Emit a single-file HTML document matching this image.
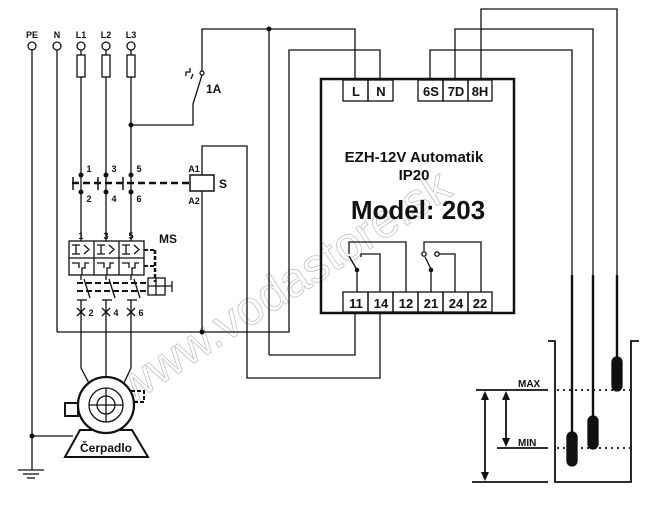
<!DOCTYPE html>
<html><head><style>
html,body{margin:0;padding:0;background:#fff}
svg{display:block}
text{font-family:"Liberation Sans",Arial,sans-serif;fill:#111}
</style></head><body>
<svg width="653" height="517" viewBox="0 0 653 517" xmlns="http://www.w3.org/2000/svg">
<text x="0" y="0" font-size="48" style="fill:none;stroke:#bbb;stroke-width:0.7" transform="translate(130,405) rotate(-33)">www.vodastore.sk</text>
<g stroke="#111" stroke-width="1.3" fill="none">
<circle cx="32" cy="46" r="4" fill="#fff"/><circle cx="57" cy="46" r="4" fill="#fff"/>
<circle cx="81" cy="46" r="4" fill="#fff"/><circle cx="106" cy="46" r="4" fill="#fff"/><circle cx="131" cy="46" r="4" fill="#fff"/>
<line x1="32" y1="50" x2="32" y2="470"/>
<line x1="57" y1="50" x2="57" y2="332"/>
<line x1="81" y1="50" x2="81" y2="241"/>
<line x1="106" y1="50" x2="106" y2="241"/>
<line x1="131" y1="50" x2="131" y2="241"/>
<rect x="77" y="55" width="8" height="22" fill="#fff"/>
<rect x="102" y="55" width="8" height="22" fill="#fff"/>
<rect x="127" y="55" width="8" height="22" fill="#fff"/>
<polyline points="131,125 193,125 193,104 202,75"/>
<circle cx="202" cy="73" r="2" fill="#fff"/>
<polyline points="202,71 202,29 355,29 355,80"/>
<polyline points="191,79 193,74"/>
<polyline points="186,76 186,72 190,72 190,68"/>
<polyline points="57,332 289,332 289,50 380,50 380,80"/>
<line x1="269" y1="29" x2="269" y2="355"/>
<polyline points="269,355 355,355 355,313"/>
<polyline points="202,332 202,191"/>
<polyline points="202,175 202,146 247,146 247,378 380,378 380,313"/>
<rect x="190" y="175" width="24" height="16" stroke-width="1.5" fill="#fff"/>
<line x1="72" y1="183" x2="190" y2="183" stroke-width="2.5" stroke-dasharray="7,4"/>
<line x1="73" y1="177" x2="73" y2="190" stroke-width="1.5"/>
<line x1="98" y1="177" x2="98" y2="190" stroke-width="1.5"/>
<line x1="123" y1="177" x2="123" y2="190" stroke-width="1.5"/>
<rect x="69" y="241" width="75" height="34" fill="#fff"/>
<line x1="69" y1="258" x2="144" y2="258"/>
<line x1="94" y1="241" x2="94" y2="275"/><line x1="119" y1="241" x2="119" y2="275"/>
<path d="M72,245 H80 M76,245 V254 M72,254 H80 M84,245 L89,249.5 L84,254 M97,245 H105 M101,245 V254 M97,254 H105 M109,245 L114,249.5 L109,254 M122,245 H130 M126,245 V254 M122,254 H130 M134,245 L139,249.5 L134,254"/>
<path d="M72,263 H79 V268 M82,275 V268 H85 V263 H89 M97,263 H104 V268 M107,275 V268 H110 V263 H114 M122,263 H129 V268 M132,275 V268 H135 V263 H139"/>
<line x1="144" y1="250" x2="155" y2="250" stroke-width="2" stroke-dasharray="4,2"/>
<line x1="155" y1="250" x2="155" y2="282" stroke-width="2.5" stroke-dasharray="4,2"/>
<line x1="144" y1="266" x2="155" y2="266" stroke-width="2" stroke-dasharray="4,2"/>
<line x1="77" y1="283" x2="148" y2="283" stroke-width="2" stroke-dasharray="6,3"/>
<line x1="77" y1="291" x2="148" y2="291" stroke-width="2" stroke-dasharray="6,3"/>
<rect x="148" y="278" width="17" height="17"/>
<line x1="156" y1="278" x2="156" y2="295"/><line x1="148" y1="286" x2="172" y2="286"/>
<line x1="172" y1="281" x2="172" y2="292"/>
<line x1="81" y1="275" x2="81" y2="280"/><line x1="106" y1="275" x2="106" y2="280"/><line x1="131" y1="275" x2="131" y2="280"/>
<line x1="84" y1="279" x2="90" y2="298"/><line x1="109" y1="279" x2="115" y2="298"/><line x1="134" y1="279" x2="140" y2="298"/>
<line x1="77" y1="300" x2="87" y2="300"/><line x1="102" y1="300" x2="112" y2="300"/><line x1="127" y1="300" x2="137" y2="300"/>
<path d="M77,308 L85,316 M85,308 L77,316 M102,308 L110,316 M110,308 L102,316 M127,308 L135,316 M135,308 L127,316"/>
<line x1="81" y1="300" x2="81" y2="368"/><line x1="106" y1="300" x2="106" y2="378"/><line x1="131" y1="300" x2="131" y2="368"/>
<line x1="81" y1="368" x2="90" y2="385"/><line x1="131" y1="368" x2="123" y2="385"/>
<rect x="65" y="403" width="13" height="13" stroke-width="2" fill="#fff"/>
<path d="M131,391 H144 V402 H133" stroke-width="2" stroke-dasharray="4,2"/>
<polygon points="80,430 132,430 148,457 65,457" stroke-width="2" fill="#fff"/>
<circle cx="106" cy="405" r="28" stroke-width="2.2" fill="#fff"/>
<circle cx="106" cy="405" r="17"/>
<circle cx="106" cy="405" r="9"/>
<line x1="89" y1="405" x2="123" y2="405"/><line x1="106" y1="388" x2="106" y2="422"/>
<line x1="32" y1="436" x2="73" y2="436"/>
<line x1="18" y1="470" x2="44" y2="470"/><line x1="23" y1="474" x2="39" y2="474"/><line x1="27" y1="478" x2="35" y2="478"/>
<rect x="321" y="79" width="193" height="234" stroke-width="2.5"/>
<rect x="343" y="80" width="25" height="21"/><rect x="368" y="80" width="25" height="21"/>
<rect x="418" y="80" width="25" height="21"/><rect x="443" y="80" width="25" height="21"/><rect x="468" y="80" width="24" height="21"/>
<rect x="343" y="292" width="25" height="20"/><rect x="368" y="292" width="25" height="20"/><rect x="393" y="292" width="25" height="20"/>
<rect x="418" y="292" width="25" height="20"/><rect x="443" y="292" width="25" height="20"/><rect x="468" y="292" width="24" height="20"/>
<polyline points="349,254 349,242 406,242 406,292"/>
<line x1="349" y1="256" x2="357" y2="270"/>
<line x1="357" y1="270" x2="357" y2="292"/>
<polyline points="361,257 361,254 366,254"/>
<polyline points="366,254 380,254 380,292"/>
<polyline points="424,251 424,242 481,242 481,292"/>
<circle cx="424" cy="254" r="2.2" fill="#fff"/>
<line x1="425" y1="257" x2="431" y2="269"/>
<line x1="431" y1="270" x2="431" y2="292"/>
<circle cx="437" cy="254" r="2.2" fill="#fff"/>
<polyline points="439,254 455,254 455,292"/>
<polyline points="430,80 430,50 572,50 572,440"/>
<polyline points="455,80 455,29 593,29 593,425"/>
<polyline points="481,80 481,9 617,9 617,365"/>
<line x1="572" y1="275" x2="572" y2="440" stroke-width="2.4"/>
<line x1="593" y1="275" x2="593" y2="425" stroke-width="2.4"/>
<line x1="617" y1="275" x2="617" y2="365" stroke-width="2.4"/>
<rect x="567" y="432" width="10" height="34" rx="5" fill="#111"/>
<rect x="588" y="416" width="10" height="33" rx="5" fill="#111"/>
<rect x="612" y="357" width="10" height="34" rx="5" fill="#111"/>
<polyline points="548,341 555,341 555,482 631,482 631,341 639,341" stroke-width="1.8"/>
<line x1="476" y1="390" x2="548" y2="390" stroke-width="1.8"/>
<line x1="497" y1="448" x2="548" y2="448" stroke-width="1.8"/>
<line x1="472" y1="482" x2="548" y2="482" stroke-width="1.8"/>
<line x1="557" y1="390" x2="630" y2="390" stroke-width="1.8" stroke-dasharray="2,4"/>
<line x1="557" y1="448" x2="630" y2="448" stroke-width="1.8" stroke-dasharray="2,4"/>
<line x1="485" y1="395" x2="485" y2="477" stroke-width="1.8"/>
<line x1="506" y1="395" x2="506" y2="443" stroke-width="1.8"/>
</g>
<g fill="#111">
<polygon points="485,391 481,400 489,400"/><polygon points="485,481 481,472 489,472"/>
<polygon points="506,391 502,400 510,400"/><polygon points="506,447 502,438 510,438"/>
<circle cx="269" cy="29" r="2.5"/><circle cx="131" cy="125" r="2.5"/><circle cx="202" cy="332" r="2.5"/><circle cx="32" cy="436" r="2.5"/>
<circle cx="81" cy="175" r="2.5"/><circle cx="106" cy="175" r="2.5"/><circle cx="131" cy="175" r="2.5"/>
<circle cx="81" cy="192" r="2.5"/><circle cx="106" cy="192" r="2.5"/><circle cx="131" cy="192" r="2.5"/>
<circle cx="357" cy="270" r="2.3"/><circle cx="431" cy="270" r="2.3"/>
</g>
<g font-size="9" font-weight="bold" text-anchor="middle">
<text x="32" y="38">PE</text><text x="57" y="38">N</text><text x="81" y="38">L1</text><text x="106" y="38">L2</text><text x="131" y="38">L3</text>
<text x="89" y="172">1</text><text x="114" y="172">3</text><text x="139" y="172">5</text>
<text x="89" y="202">2</text><text x="114" y="202">4</text><text x="139" y="202">6</text>
<text x="81" y="239">1</text><text x="106" y="239">3</text><text x="131" y="239">5</text>
<text x="91" y="316">2</text><text x="116" y="316">4</text><text x="141" y="316">6</text>
<text x="194" y="172">A1</text><text x="194" y="204">A2</text>
</g>
<g font-weight="bold">
<text x="206" y="93" font-size="12">1A</text>
<text x="219" y="188" font-size="12">S</text>
<text x="159" y="243" font-size="12">MS</text>
<text x="106" y="452" font-size="12" text-anchor="middle">Čerpadlo</text>
<text x="518" y="387" font-size="10">MAX</text>
<text x="518" y="446" font-size="10">MIN</text>
</g>
<g font-size="13" font-weight="bold" text-anchor="middle">
<text x="356" y="96">L</text><text x="381" y="96">N</text>
<text x="431" y="96">6S</text><text x="456" y="96">7D</text><text x="480" y="96">8H</text>
<text x="356" y="308">11</text><text x="381" y="308">14</text><text x="406" y="308">12</text>
<text x="431" y="308">21</text><text x="456" y="308">24</text><text x="480" y="308">22</text>
</g>
<text x="414" y="162" font-size="15" font-weight="bold" text-anchor="middle" fill="#222">EZH-12V Automatik</text>
<text x="414" y="180" font-size="15" font-weight="bold" text-anchor="middle" fill="#222">IP20</text>
<text x="418" y="219" font-size="26" font-weight="bold" text-anchor="middle">Model: 203</text>
</svg>
</body></html>
